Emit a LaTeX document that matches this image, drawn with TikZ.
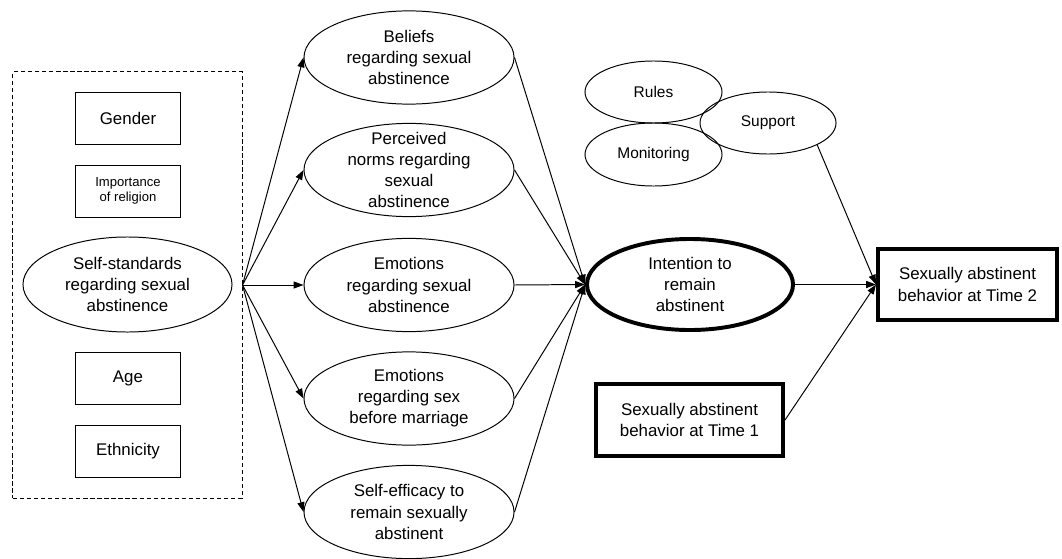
\documentclass[tikz,border=0pt]{standalone}
\usepackage{fontspec}
\setmainfont{Liberation Sans}
\usetikzlibrary{shapes,arrows.meta}
\tikzset{oval/.style={draw, ellipse, inner sep=0pt},
 mid/.style={oval, minimum width=5.25cm, minimum height=2.33cm},
 txt/.style={align=center, font=\fontsize{12}{15}\selectfont},
 box/.style={draw, minimum width=2.6cm, minimum height=1.3cm, txt},
 bigbox/.style={draw, line width=2.8pt, txt},
 grpbox/.style={draw, dash pattern=on 3pt off 2pt, minimum width=5.725cm, minimum height=10.65cm},
 parent/.style={oval, minimum width=3.425cm, minimum height=1.55cm, font=\fontsize{11}{13}\selectfont},
 arr/.style={->, >={Triangle[length=7pt,width=5pt]}},
 }

\begin{document}
\begin{tikzpicture}[x=0.025cm, y=-0.025cm, line width=0.7pt]
        \useasboundingbox (0,0) rectangle (1062,558);

        % background variables
        \node[grpbox] (grp) at (127.5,285) {};
        \node[box] (gen) at (128,118) {Gender};
        \node[box, font=\fontsize{9.3}{10.6}\selectfont] (rel) at (128,191) {Importance\\of religion};
        \node[oval, minimum width=5.225cm, minimum height=2.375cm, txt] (std) at (127.5,284.5) {Self-standards\\regarding sexual\\abstinence};
        \node[box] (age) at (128,378.5) {Age};
        \node[box] (eth) at (128,451) {Ethnicity};

        \node[oval, line width=2.8pt, minimum width=5.15cm, minimum height=2.275cm, txt] (int) at (690,284.5) {Intention to\\remain\\abstinent};

        \foreach \nm/\yy/\txt in {bel/57.5/{Beliefs\\regarding sexual\\abstinence},
            nrm/170/{Perceived\\norms regarding\\sexual\\abstinence},
            emo/285/{Emotions\\regarding sexual\\abstinence},
            mar/398.5/{Emotions\\regarding sex\\before marriage},
            eff/512/{Self-efficacy to\\remain sexually\\abstinent}} {
            \node[mid, label={[txt]center:\txt}] (\nm) at (409,\yy) {};
            \draw[arr] (grp.east) -- (\nm.west);
            \draw[arr] (\nm.east) -- (int.west);
        }

        % parenting
        \node[parent] (rul) at (653.5,92) {Rules};
        \node[parent, minimum height=1.575cm] (mon) at (653.5,154.5) {Monitoring};
        \node[parent, minimum width=3.4cm] (sup) at (768,123) {Support};

        \node[bigbox, minimum width=4.475cm, minimum height=1.775cm] (t2) at (967.5,284.5) {Sexually abstinent\\behavior at Time 2};
        \node[bigbox, minimum width=4.675cm, minimum height=1.8cm] (t1) at (689.5,420) {Sexually abstinent\\behavior at Time 1};

        \draw[arr] (int.east) -- (t2.west);
        \draw[arr] (sup.-24) -- (t2.west);
        \draw[arr] (t1.east) -- (t2.west);
    \end{tikzpicture}
\end{document}
